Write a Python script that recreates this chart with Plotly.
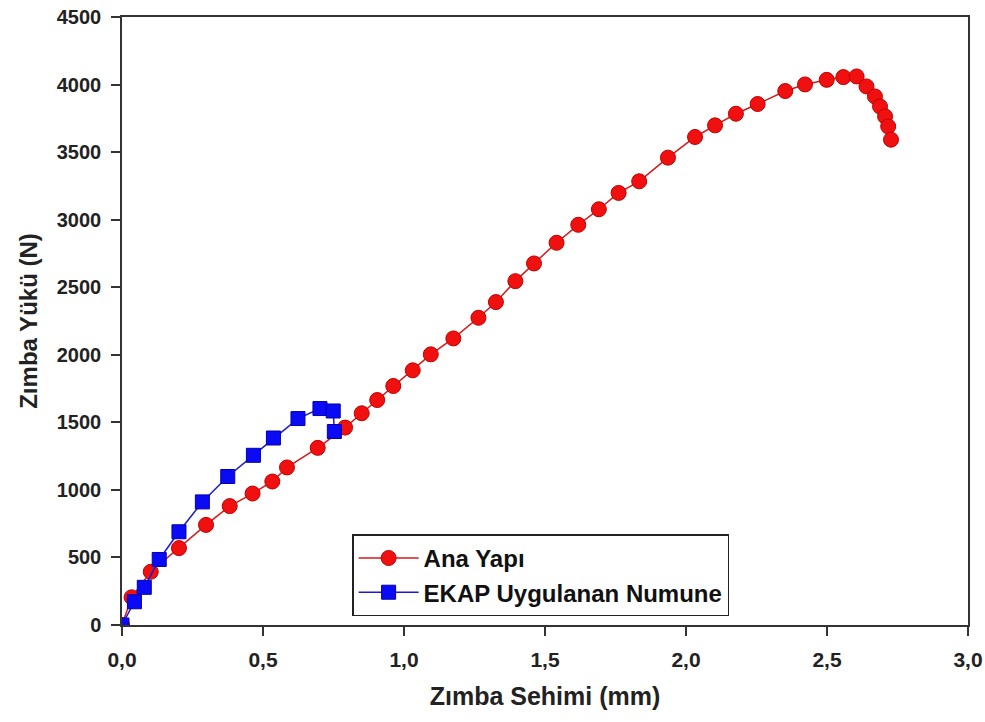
import plotly.graph_objects as go

ana_x = [0.0, 0.034, 0.102, 0.202, 0.298, 0.382, 0.463, 0.533, 0.585, 0.694, 0.791, 0.850, 0.905,
         0.962, 1.031, 1.095, 1.175, 1.264, 1.326, 1.395, 1.461, 1.541, 1.618, 1.691, 1.761, 1.834,
         1.936, 2.032, 2.103, 2.177, 2.254, 2.352, 2.422, 2.499, 2.558, 2.605, 2.640, 2.670, 2.688,
         2.706, 2.717, 2.727]
ana_y = [0, 205, 394, 569, 741, 880, 973, 1062, 1166, 1311, 1461, 1567, 1665,
         1769, 1885, 2003, 2121, 2274, 2390, 2545, 2676, 2829, 2962, 3077, 3198, 3284,
         3459, 3612, 3698, 3784, 3856, 3952, 4001, 4035, 4055, 4060, 3986, 3912, 3838,
         3764, 3690, 3592]

ekap_x = [0.0, 0.044, 0.079, 0.132, 0.202, 0.285, 0.375, 0.466, 0.537, 0.624, 0.702, 0.749, 0.753]
ekap_y = [0, 172, 279, 485, 690, 911, 1099, 1256, 1384, 1528, 1602, 1584, 1432]

x_ticks = [0.0, 0.5, 1.0, 1.5, 2.0, 2.5, 3.0]
y_ticks = [0, 500, 1000, 1500, 2000, 2500, 3000, 3500, 4000, 4500]

FONT = "Liberation Sans, Arial, sans-serif"

fig = go.Figure()
fig.add_trace(go.Scatter(
    x=ana_x, y=ana_y, mode="lines+markers", name="Ana Yapı",
    line=dict(color="#d81818", width=1.5),
    marker=dict(symbol="circle", size=15, color="#f01010", line=dict(color="#c00000", width=1)),
))
fig.add_trace(go.Scatter(
    x=ekap_x, y=ekap_y, mode="lines+markers", name="EKAP Uygulanan Numune",
    line=dict(color="#1a1ad0", width=1.5),
    marker=dict(symbol="square", size=14, color="#0a0af5", line=dict(color="#0000b0", width=1)),
))

fig.update_layout(
    width=985, height=722,
    margin=dict(l=122, r=17, t=17, b=97, autoexpand=False),
    paper_bgcolor="white", plot_bgcolor="white",
    separators=",.",
    showlegend=True,
    legend=dict(
        x=0.272, y=0.149, xanchor="left", yanchor="top",
        bgcolor="white", bordercolor="#222", borderwidth=1.5,
        font=dict(family=FONT, size=24, color="#111", weight="bold"),
        tracegroupgap=0, itemwidth=60,
    ),
    xaxis=dict(
        range=[0, 3.0], tickvals=x_ticks, tickformat=".1f",
        showgrid=False, zeroline=False, automargin=False,
        showline=True, linecolor="#333", linewidth=1.5, mirror=True,
        ticks="outside", ticklen=9, tickcolor="#333", tickwidth=1.5,
        ticklabelstandoff=6,
        tickfont=dict(family=FONT, size=21, color="#222", weight="bold"),
        title=dict(text="Zımba Sehimi (mm)", standoff=18,
                   font=dict(family=FONT, size=25, color="#222", weight="bold")),
    ),
    yaxis=dict(
        range=[0, 4500], tickvals=y_ticks, tickformat="d",
        showgrid=False, zeroline=False, automargin=False,
        showline=True, linecolor="#333", linewidth=1.5, mirror=True,
        ticks="outside", ticklen=9, tickcolor="#333", tickwidth=1.5,
        ticklabelstandoff=6,
        tickfont=dict(family=FONT, size=20, color="#222", weight="bold"),
        title=dict(text="Zımba Yükü (N)", standoff=12,
                   font=dict(family=FONT, size=24, color="#222", weight="bold")),
    ),
)

fig.write_html("out.html", config={"displayModeBar": False},
               post_script="document.body.style.margin='0';document.body.style.padding='0';document.body.style.overflow='hidden';")
